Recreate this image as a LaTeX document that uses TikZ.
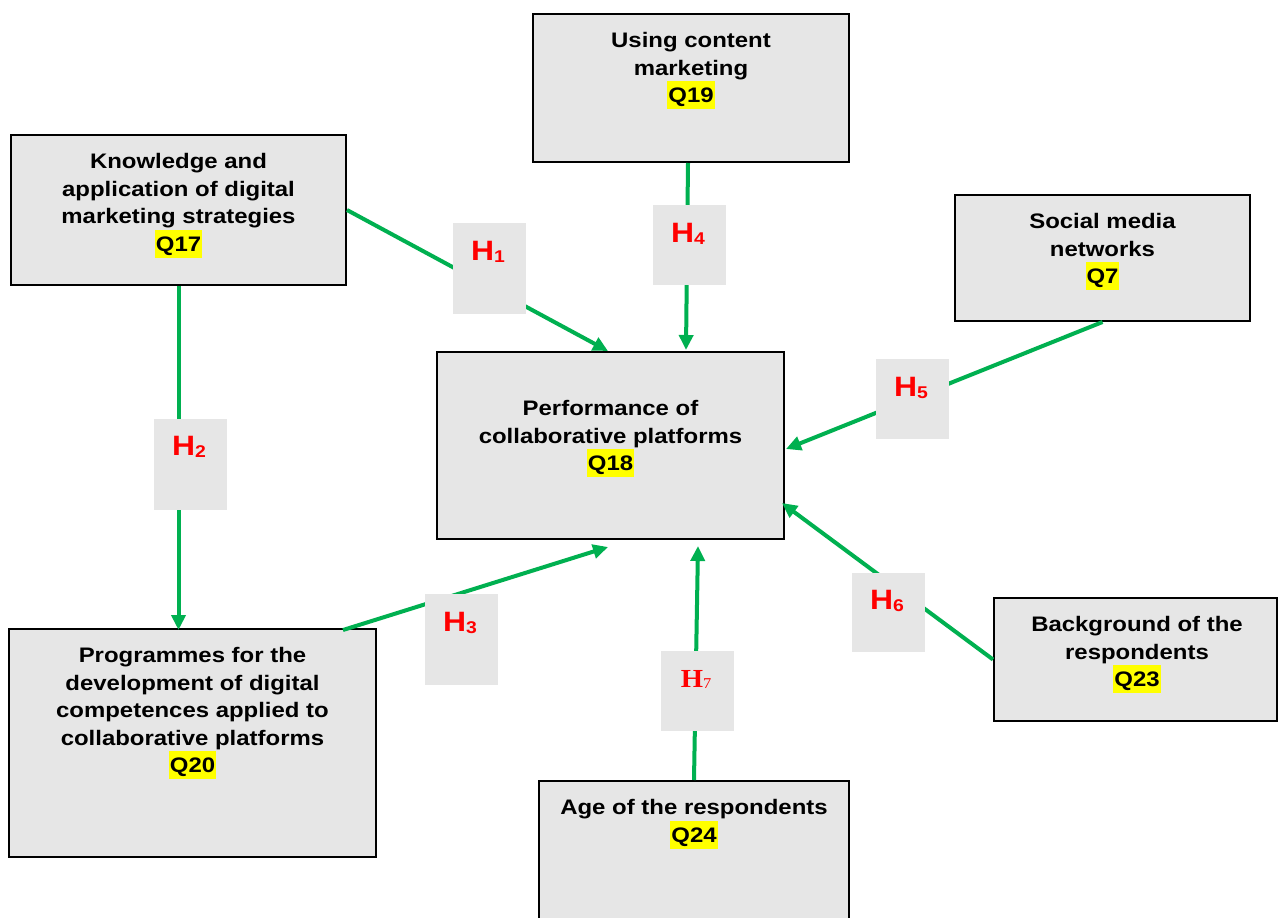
\documentclass[tikz,border=0pt]{standalone}
\usepackage{fontspec}
\setmainfont[FakeStretch=1.14]{Liberation Sans}
\newfontfamily\serifH[FakeStretch=1.1]{Liberation Serif}
\usetikzlibrary{arrows.meta}
\definecolor{boxgray}{HTML}{E6E6E6}
\definecolor{arrgreen}{HTML}{00B050}
\definecolor{hlyellow}{HTML}{FFFF00}
\definecolor{hred}{HTML}{FF0000}
\newcommand{\qhl}[1]{{\setlength{\fboxsep}{0pt}\colorbox{hlyellow}{\rule[-6.4pt]{0pt}{28pt}\hspace{1pt}#1\hspace{1pt}}}}
\newcommand{\hsub}[1]{\raisebox{-2pt}{\fontsize{17}{17}\selectfont #1}}
\newcommand{\fl}{\rule{0pt}{16pt}}
\tikzset{
  qbox/.style={draw=black, line width=2pt, fill=boxgray, inner sep=0pt},
  hbox/.style={fill=boxgray, inner sep=0pt},
  qtxt/.style={anchor=north, align=center, inner sep=0pt, font=\fontsize{21}{27.5}\selectfont\bfseries},
  htxt/.style={anchor=base, inner sep=0pt, text=hred, font=\fontsize{28}{30}\selectfont\bfseries},
  arr/.style={draw=arrgreen, line width=4pt, -{Triangle[length=15pt,width=14pt]}}
}
\begin{document}
\begin{tikzpicture}[x=1pt,y=-1pt]
\useasboundingbox[fill=white] (0,0) rectangle (1278,918);
% boxes
\node[qbox, minimum width=316, minimum height=148] (q19) at (691,88) {};
\node[qbox, minimum width=335, minimum height=150] (q17) at (178.5,210) {};
\node[qbox, minimum width=295, minimum height=126] (q7) at (1102.5,258) {};
\node[qbox, minimum width=347, minimum height=187] (q18) at (610.5,445.5) {};
\node[qbox, minimum width=367, minimum height=228] (q20) at (192.5,743) {};
\node[qbox, minimum width=283, minimum height=123] (q23) at (1135.5,659.5) {};
\node[qbox, minimum width=310, minimum height=149] (q24) at (694,855.5) {};
% connector end points
\coordinate (e1) at (608,351);
\coordinate (s4) at (688,163);
\coordinate (e4) at (686,350);
\coordinate (s2) at (178.5,286);
\coordinate (e2) at (178.5,630);
\coordinate (e5) at (786,449);
\coordinate (s3) at (343,630);
\coordinate (e3) at (608,547);
\coordinate (e6) at (782,503);
\coordinate (e7) at (698,546);
% connectors
\draw[arr] (q17.east) -- (e1);
\draw[arr] (s4) -- (e4);
\draw[arr] (s2) -- (e2);
\draw[arr] (q7.south) -- (e5);
\draw[arr] (s3) -- (e3);
\draw[arr] (q23.west) -- (e6);
\draw[arr] (q24.north) -- (e7);
% hypothesis boxes
\node[hbox, minimum width=73, minimum height=91] (h1) at (489.5,268.5) {};
\node[hbox, minimum width=73, minimum height=80] (h4) at (689.5,245) {};
\node[hbox, minimum width=73, minimum height=91] (h2) at (190.5,464.5) {};
\node[hbox, minimum width=73, minimum height=80] (h5) at (912.5,399) {};
\node[hbox, minimum width=73, minimum height=91] (h3) at (461.5,639.5) {};
\node[hbox, minimum width=73, minimum height=79] (h6) at (888.5,612.5) {};
\node[hbox, minimum width=73, minimum height=80] (h7) at (697.5,691) {};
\node[htxt] (ht1) at (488,260) {H\hsub{1}};
\node[htxt] (ht4) at (688,242) {H\hsub{4}};
\node[htxt] (ht2) at (189,455) {H\hsub{2}};
\node[htxt] (ht5) at (911,396) {H\hsub{5}};
\node[htxt] (ht3) at (460,631) {H\hsub{3}};
\node[htxt] (ht6) at (887,609) {H\hsub{6}};
\node[htxt, font=\serifH\fontsize{26}{28}\selectfont\bfseries] (ht7) at (696,687.5) {H\raisebox{-1pt}{\fontsize{15}{15}\selectfont\mdseries 7}};
% box texts
\node[qtxt] (t19) at (691,31.5) {\fl Using content\\marketing\\\qhl{Q19}};
\node[qtxt] (t17) at (178.5,152.5) {\fl Knowledge and\\application of digital\\marketing strategies\\\qhl{Q17}};
\node[qtxt] (t7) at (1102.5,212.5) {\fl Social media\\networks\\\qhl{Q7}};
\node[qtxt] (t18) at (610.5,399.5) {\fl Performance of\\collaborative platforms\\\qhl{Q18}};
\node[qtxt] (t20) at (192.5,646.5) {\fl Programmes for the\\development of digital\\competences applied to\\collaborative platforms\\\qhl{Q20}};
\node[qtxt] (t23) at (1137,615.5) {\fl Background of the\\respondents\\\qhl{Q23}};
\node[qtxt] (t24) at (694,798.5) {\fl Age of the respondents\\\qhl{Q24}};
\end{tikzpicture}
\end{document}
